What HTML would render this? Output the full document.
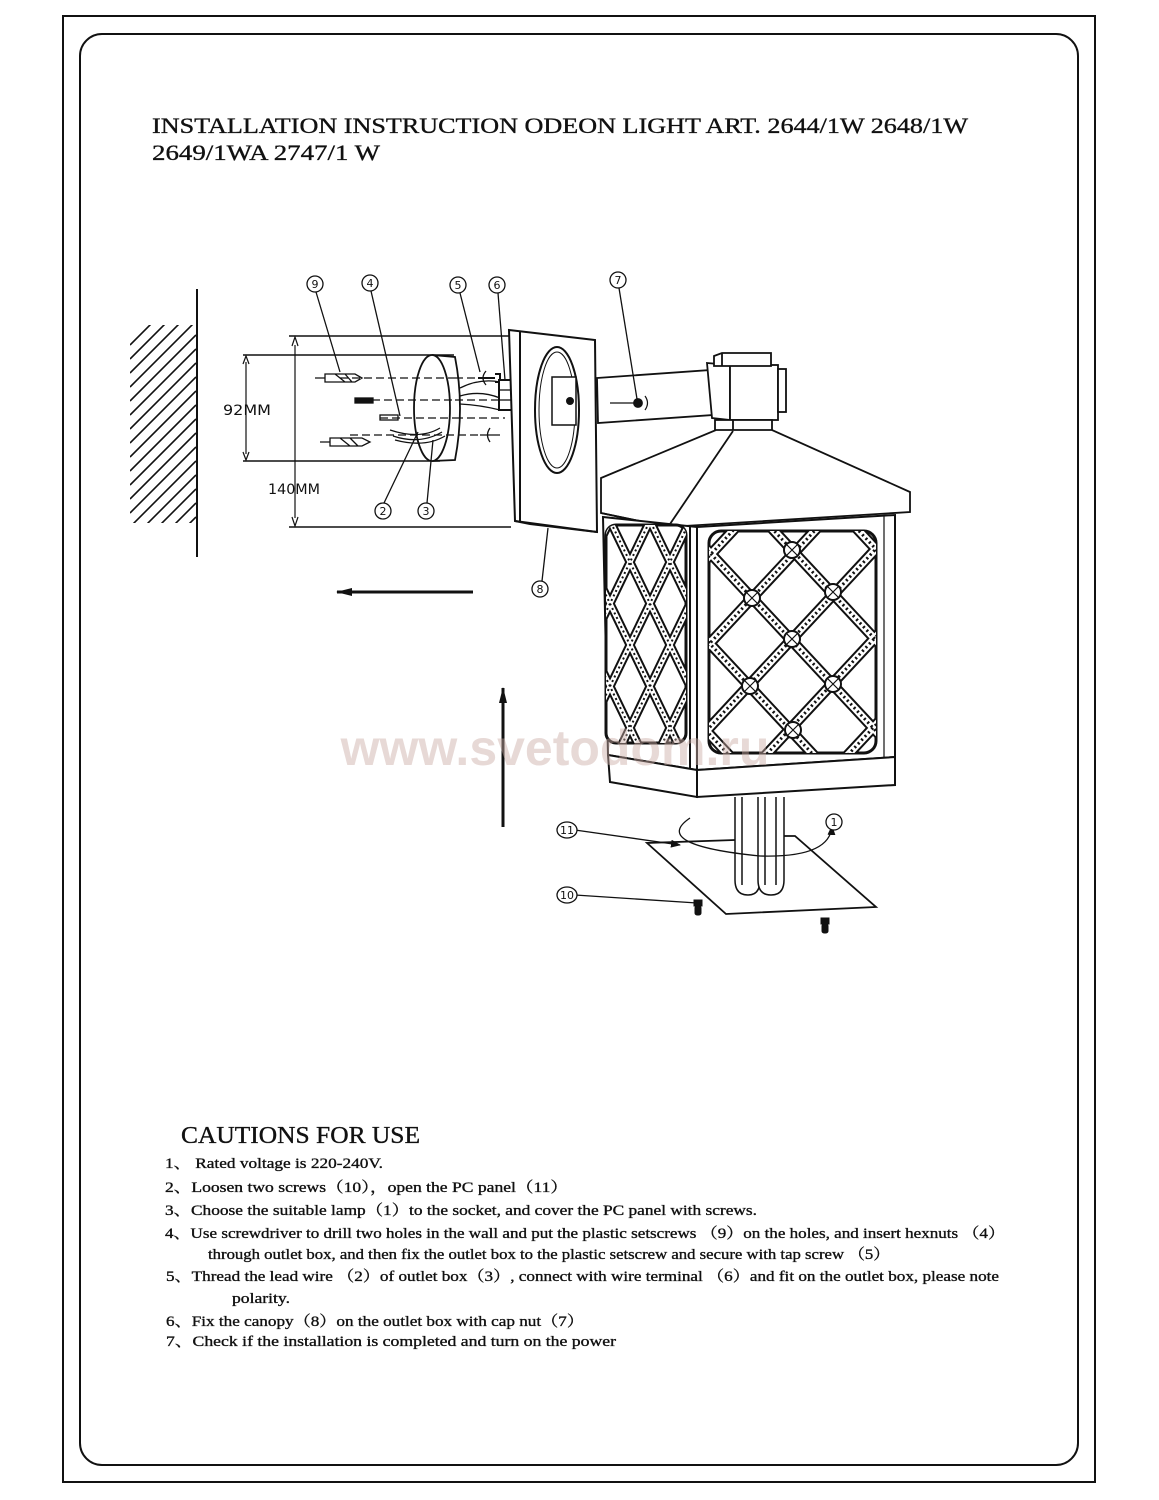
<!DOCTYPE html>
<html><head><meta charset="utf-8"><style>
html,body{margin:0;padding:0;background:#fff;}
svg{display:block;}
.t{font-family:"Liberation Serif","Noto Serif CJK SC","Noto Sans CJK SC",serif;fill:#111;stroke:#111;stroke-width:0.35;}
.m{font-family:"DejaVu Sans","Liberation Sans",sans-serif;fill:#111;}
</style></head><body>
<svg width="1159" height="1500" viewBox="0 0 1159 1500" xmlns="http://www.w3.org/2000/svg">
<defs>
<clipPath id="fw"><rect x="709" y="531" width="167" height="222" rx="12"/></clipPath>
<clipPath id="sw"><rect x="606" y="525" width="80" height="218" rx="10"/></clipPath>
<clipPath id="hc"><rect x="130" y="325" width="66" height="198"/></clipPath>
<marker id="ah" markerWidth="10" markerHeight="8" refX="9" refY="4" orient="auto" markerUnits="userSpaceOnUse"><path d="M0,0 L10,4 L0,8 z" fill="#111"/></marker>
<marker id="ah2" markerWidth="16" markerHeight="8" refX="15" refY="4" orient="auto" markerUnits="userSpaceOnUse"><path d="M0,0 L16,4 L0,8 z" fill="#111"/></marker>
</defs>
<g fill="none" stroke="#111">
<rect x="63" y="16" width="1032" height="1466" stroke-width="2"/>
<rect x="80" y="34" width="998" height="1431" rx="22" stroke-width="2"/>
</g>

<!-- title -->
<text class="t" x="152" y="133" font-size="22" textLength="816" lengthAdjust="spacingAndGlyphs">INSTALLATION INSTRUCTION ODEON LIGHT ART. 2644/1W  2648/1W</text>
<text class="t" x="152" y="160" font-size="22" textLength="228" lengthAdjust="spacingAndGlyphs">2649/1WA  2747/1 W</text>

<!-- wall -->
<g stroke="#111" fill="none">
<line x1="197" y1="289" x2="197" y2="557" stroke-width="2"/>
<g clip-path="url(#hc)" stroke-width="1.6">
<path d="M130,345 L196,279 M130,359 L196,293 M130,373 L196,307 M130,387 L196,321 M130,401 L196,335 M130,415 L196,349 M130,429 L196,363 M130,443 L196,377 M130,457 L196,391 M130,471 L196,405 M130,485 L196,419 M130,499 L196,433 M130,513 L196,447 M130,527 L196,461 M130,541 L196,475 M130,555 L196,489 M130,569 L196,503 M130,583 L196,517 M130,597 L196,531"/>
</g>
<line x1="289" y1="336" x2="511" y2="336" stroke-width="1.5"/>
<line x1="289" y1="527" x2="511" y2="527" stroke-width="1.5"/>
<line x1="295" y1="345" x2="295" y2="518" stroke-width="1.2"/>
<path d="M292,346 L295,337 L298,346 M292,517 L295,526 L298,517" stroke-width="1.2"/>
<line x1="243" y1="355" x2="454" y2="355" stroke-width="1.5"/>
<line x1="243" y1="461" x2="440" y2="461" stroke-width="1.5"/>
<line x1="246" y1="362" x2="246" y2="454" stroke-width="1.2"/>
<path d="M243,364 L246,356 L249,364 M243,452 L246,460 L249,452" stroke-width="1.2"/>
</g>
<text class="m" x="223" y="415" font-size="14" textLength="48" lengthAdjust="spacingAndGlyphs">92MM</text>
<text class="m" x="268" y="494" font-size="14" textLength="52" lengthAdjust="spacingAndGlyphs">140MM</text>

<!-- outlet box -->
<g stroke="#111" fill="#fff" stroke-width="1.8">
<path d="M432,355 L455,357 Q465,408 455,460 L432,461" />
<ellipse cx="432" cy="408" rx="18" ry="53"/>
</g>
<g stroke="#111" stroke-width="1.3" fill="none">
<line x1="340" y1="378" x2="455" y2="378" stroke-dasharray="8,4"/>
<line x1="360" y1="400" x2="455" y2="400" stroke-dasharray="8,4"/>
<line x1="380" y1="418" x2="455" y2="418" stroke-dasharray="8,4"/>
<line x1="350" y1="435" x2="480" y2="435" stroke-dasharray="8,4"/>
<line x1="455" y1="378" x2="485" y2="378" stroke-dasharray="8,4"/>
<line x1="455" y1="400" x2="505" y2="400" stroke-dasharray="8,4"/>
<line x1="455" y1="418" x2="505" y2="418" stroke-dasharray="8,4"/>
<path d="M315,378 L325,378 M325,374 L355,374 L362,378 L355,382 L325,382 Z M335,374 L345,382 M345,374 L352,382"/>
<path d="M320,442 L330,442 M330,438 L362,438 L370,442 L362,446 L330,446 Z M340,438 L350,446 M350,438 L358,446"/>
<rect x="355" y="398" width="18" height="5" fill="#111"/>
<rect x="380" y="415" width="18" height="5"/>
<path d="M390,430 Q420,440 440,428 M393,436 Q420,445 442,432 M395,440 Q425,448 445,436 M460,388 Q480,378 500,382 M460,396 Q480,390 500,398 M460,404 Q480,405 500,410"/>
<path d="M478,378 L495,378 M495,374 L500,374 L500,382 L495,382" stroke-width="2"/>
<path d="M480,435 L500,435 M490,428 Q485,435 490,442" />
<path d="M486,371 Q480,378 486,385"/>
<rect x="499" y="380" width="14" height="30" fill="#fff" stroke-width="2"/>
<line x1="499" y1="390" x2="513" y2="390"/><line x1="499" y1="400" x2="513" y2="400"/>
<path d="M513,385 Q535,378 555,400 M513,395 Q535,395 560,402 M513,405 Q535,420 558,405" stroke-width="1"/>
</g>
<!-- canopy plate -->
<g stroke="#111" fill="#fff" stroke-width="2">
<path d="M509,330 L595,340 L597,532 L515,521 Z"/>
<path d="M520,332 L520,521" fill="none"/>
<path d="M515,521 L530,524 L597,532" fill="none"/>
<ellipse cx="557" cy="410" rx="22" ry="63" fill="none"/>
<ellipse cx="557" cy="410" rx="18" ry="58" fill="none" stroke-width="1"/>
<rect x="552" y="377" width="24" height="48" fill="#fff" stroke-width="1.5"/>
<circle cx="570" cy="401" r="3" fill="#111"/>
</g>
<!-- arm -->
<g stroke="#111" fill="#fff" stroke-width="1.8">
<path d="M597,378 L725,369 L727,414 L598,423 Z"/>
<path d="M707,363 L730,365 L730,420 L712,418 Z"/>
<rect x="730" y="365" width="48" height="55"/>
<rect x="778" y="369" width="8" height="43"/>
<path d="M714,356 L722,353 L771,353 L771,366 L714,366 Z"/>
<path d="M722,353 L722,366" fill="none"/>
<path d="M715,420 L772,420 L772,431 L715,431 Z"/>
<line x1="733" y1="420" x2="733" y2="431"/>
<path d="M716,430 L772,430 L910,492 L910,512 L668,527 L601,513 L601,478 Z"/>
<path d="M733,431 L668,527" fill="none"/>
<path d="M601,513 L668,527" fill="none"/>
<circle cx="638" cy="403" r="4" fill="#111"/>
<line x1="610" y1="403" x2="634" y2="403" fill="none" stroke-width="1.3"/>
<path d="M645,396 Q650,403 645,410" fill="none" stroke-width="1.2"/>
</g>
<!-- body -->
<g stroke="#111" fill="#fff" stroke-width="2">
<path d="M603,517 L697,527 L697,770 L608,755 Z"/>
<path d="M697,527 L895,515 L895,757 L697,770 Z"/>
<path d="M608,755 L697,770 L697,797 L610,782 Z"/>
<path d="M697,770 L895,757 L895,785 L697,797 Z"/>
<line x1="690" y1="526" x2="690" y2="768" />
<line x1="884" y1="516" x2="884" y2="758" stroke-width="1.2"/>
<rect x="709" y="531" width="167" height="222" rx="12" stroke-width="3"/>
<rect x="606" y="525" width="80" height="218" rx="10" stroke-width="3"/>
</g>
<g clip-path="url(#fw)" fill="none">
<g stroke="#111" stroke-width="11">
<path d="M628,374 L956,726 M588,422 L916,774 M548,470 L876,822 M668,326 L996,678 M508,518 L836,870 M588,774 L916,422 M628,815 L956,463 M668,860 L996,508 M548,729 L876,377 M708,905 L1036,553"/>
</g>
<g stroke="#fff" stroke-width="7">
<path d="M628,374 L956,726 M588,422 L916,774 M548,470 L876,822 M668,326 L996,678 M508,518 L836,870 M588,774 L916,422 M628,815 L956,463 M668,860 L996,508 M548,729 L876,377 M708,905 L1036,553"/>
</g>
<g stroke="#111" stroke-width="3" stroke-dasharray="2,3">
<path d="M628,374 L956,726 M588,422 L916,774 M548,470 L876,822 M668,326 L996,678 M508,518 L836,870 M588,774 L916,422 M628,815 L956,463 M668,860 L996,508 M548,729 L876,377 M708,905 L1036,553"/>
</g>
<g stroke="#111" stroke-width="2" fill="#fff">
<circle cx="792" cy="550" r="8"/><circle cx="752" cy="598" r="8"/><circle cx="833" cy="592" r="8"/><circle cx="792" cy="639" r="8"/><circle cx="750" cy="686" r="8"/><circle cx="833" cy="684" r="8"/><circle cx="793" cy="730" r="8"/>
</g>
<g stroke="#111" stroke-width="1.2">
<path d="M786,544 L798,556 M798,544 L786,556 M746,592 L758,604 M758,592 L746,604 M827,586 L839,598 M839,586 L827,598 M786,633 L798,645 M798,633 L786,645 M744,680 L756,692 M756,680 L744,692 M827,678 L839,690 M839,678 L827,690 M787,724 L799,736 M799,724 L787,736"/>
</g>
</g>
<g clip-path="url(#sw)" fill="none">
<g stroke="#111" stroke-width="9">
<path d="M520,500 L660,790 M560,500 L700,790 M600,500 L740,790 M640,500 L780,790 M480,500 L620,790 M660,500 L520,790 M700,500 L560,790 M740,500 L600,790 M780,500 L640,790 M620,500 L480,790"/>
</g>
<g stroke="#fff" stroke-width="5">
<path d="M520,500 L660,790 M560,500 L700,790 M600,500 L740,790 M640,500 L780,790 M480,500 L620,790 M660,500 L520,790 M700,500 L560,790 M740,500 L600,790 M780,500 L640,790 M620,500 L480,790"/>
</g>
<g stroke="#111" stroke-width="2" stroke-dasharray="2,3">
<path d="M520,500 L660,790 M560,500 L700,790 M600,500 L740,790 M640,500 L780,790 M480,500 L620,790 M660,500 L520,790 M700,500 L560,790 M740,500 L600,790 M780,500 L640,790 M620,500 L480,790"/>
</g>
</g>
<g stroke="#111" fill="#fff" stroke-width="1.5">
<path d="M735,797 L735,880 Q735,895 748,895 Q760,895 760,880 L760,797"/>
<path d="M758,797 L758,880 Q758,895 771,895 Q784,895 784,880 L784,797"/>
<line x1="742" y1="797" x2="742" y2="885"/><line x1="765" y1="797" x2="765" y2="885"/><line x1="776" y1="797" x2="776" y2="885"/>
</g>
<g stroke="#111" fill="none" stroke-width="1.8">
<path d="M735,840 L647,843 L726,914 L876,907 L795,836 L784,836"/>
<path d="M690,818 Q650,845 760,856 Q830,858 832,826" stroke-width="1.3" marker-end="url(#ah)"/>
</g>
<g fill="#111" stroke="#111">
<rect x="694" y="900" width="8" height="6"/><rect x="695" y="906" width="6" height="9" rx="2"/>
<rect x="821" y="918" width="8" height="6"/><rect x="822" y="924" width="6" height="9" rx="2"/>
</g>

<g stroke="#111" fill="none" stroke-width="1.3">
<line x1="316" y1="292" x2="340" y2="372"/>
<line x1="371" y1="291" x2="400" y2="416"/>
<line x1="460" y1="293" x2="480" y2="372"/>
<line x1="498" y1="293" x2="505" y2="380"/>
<line x1="619" y1="288" x2="637" y2="399"/>
<line x1="384" y1="503" x2="418" y2="432"/>
<line x1="427" y1="503" x2="433" y2="440"/>
<line x1="542" y1="581" x2="548" y2="528"/>
<line x1="575" y1="830" x2="680" y2="845" marker-end="url(#ah)"/>
<line x1="575" y1="895" x2="697" y2="903"/>
</g>
<g stroke="#111" fill="#fff" stroke-width="1.3">
<circle cx="315" cy="284" r="8"/><circle cx="370" cy="283" r="8"/><circle cx="458" cy="285" r="8"/><circle cx="497" cy="285" r="8"/><circle cx="618" cy="280" r="8"/><circle cx="383" cy="511" r="8"/><circle cx="426" cy="511" r="8"/><circle cx="540" cy="589" r="8"/><ellipse cx="567" cy="830" rx="10" ry="8"/><ellipse cx="567" cy="895" rx="10" ry="8"/><circle cx="834" cy="822" r="8"/>
</g>
<g class="m" font-size="11" text-anchor="middle">
<text x="315" y="288">9</text><text x="370" y="287">4</text><text x="458" y="289">5</text><text x="497" y="289">6</text><text x="618" y="284">7</text><text x="383" y="515">2</text><text x="426" y="515">3</text><text x="540" y="593">8</text><text x="567" y="834">11</text><text x="567" y="899">10</text><text x="834" y="826">1</text>
</g>

<line x1="473" y1="592" x2="337" y2="592" stroke="#111" stroke-width="3" marker-end="url(#ah2)"/>
<line x1="503" y1="827" x2="503" y2="688" stroke="#111" stroke-width="3" marker-end="url(#ah2)"/>

<!-- watermark over drawing -->
<text x="555" y="765" text-anchor="middle" font-family="Liberation Sans,sans-serif" font-weight="bold" font-size="50" fill="#c9aaa3" fill-opacity="0.45">www.svetodom.ru</text>

<!-- cautions -->
<text class="t" x="181" y="1143" font-size="24" textLength="239" lengthAdjust="spacingAndGlyphs">CAUTIONS FOR USE</text>
<g class="t" font-size="15">
<text x="165" y="1168" textLength="218" lengthAdjust="spacingAndGlyphs">1、 Rated voltage is 220-240V.</text>
<text x="165" y="1192" textLength="403" lengthAdjust="spacingAndGlyphs">2、Loosen two screws（10），open the PC panel（11）</text>
<text x="165" y="1215" textLength="592" lengthAdjust="spacingAndGlyphs">3、Choose the suitable lamp（1）to the socket, and cover the PC panel with screws.</text>
<text x="165" y="1238" textLength="840" lengthAdjust="spacingAndGlyphs">4、Use screwdriver to drill two holes in the wall and put the plastic setscrews （9）on the holes, and insert hexnuts （4）</text>
<text x="208" y="1259" textLength="682" lengthAdjust="spacingAndGlyphs">through outlet box, and then fix the outlet box to the plastic setscrew and secure with tap screw （5）</text>
<text x="166" y="1281" textLength="833" lengthAdjust="spacingAndGlyphs">5、Thread the lead wire （2）of outlet box（3）, connect with wire terminal （6）and fit on the outlet box, please note</text>
<text x="232" y="1303" textLength="58" lengthAdjust="spacingAndGlyphs">polarity.</text>
<text x="166" y="1326" textLength="418" lengthAdjust="spacingAndGlyphs">6、Fix the canopy（8）on the outlet box with cap nut（7）</text>
<text x="166" y="1346" textLength="450" lengthAdjust="spacingAndGlyphs">7、Check if the installation is completed and turn on the power</text>
</g>
</svg>
</body></html>
